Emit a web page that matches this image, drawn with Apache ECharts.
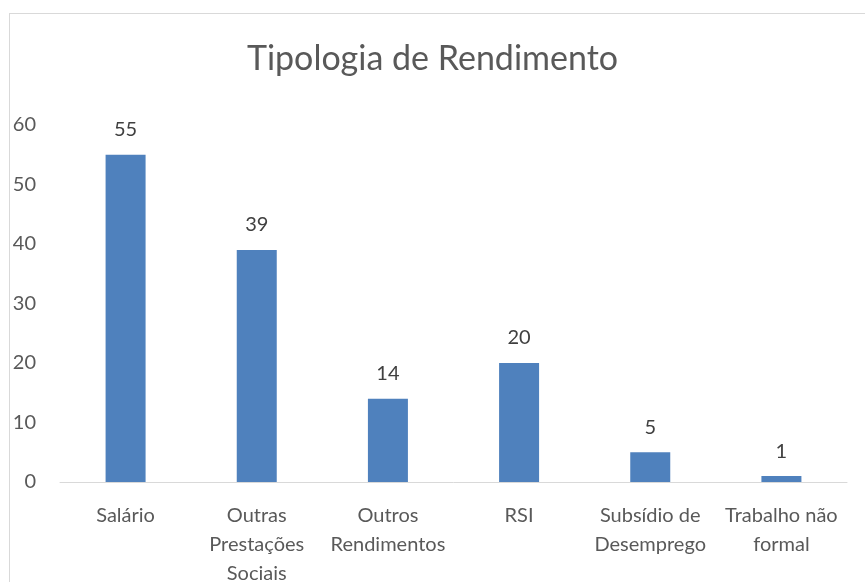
<!DOCTYPE html>
<html>
<head>
<meta charset="utf-8">
<script src="https://cdn.jsdelivr.net/npm/echarts@6/dist/echarts.min.js"></script>
<style>
  html, body { margin: 0; padding: 0; background: #fff; }
  #frame { position: absolute; left: 9px; top: 13px; width: 870px; height: 590px; border: 1px solid #d9d9d9; }
  #chart { position: absolute; left: 0; top: 0; width: 865px; height: 582px; }
</style>
</head>
<body>
<div id="frame"></div>
<div id="chart"></div>
<script>
// categories and values
const categories = ['Salário', 'Outras\nPrestações\nSociais', 'Outros\nRendimentos', 'RSI', 'Subsídio de\nDesemprego', 'Trabalho não\nformal'];
const values = [55, 39, 14, 20, 5, 1];
const yTicks = [0, 10, 20, 30, 40, 50, 60];

const font = 'Lato, "Open Sans", sans-serif';
const chart = echarts.init(document.getElementById('chart'));

chart.setOption({
  animation: false,
  title: {
    text: 'Tipologia de Rendimento',
    left: 'center',
    top: 37,
    textStyle: { fontFamily: font, fontSize: 34, fontWeight: 'normal', color: '#595959' }
  },
  grid: { left: 60, right: 18, top: 125, bottom: 100, outerBoundsMode: 'none' },
  xAxis: {
    type: 'category',
    data: categories,
    axisLine: { lineStyle: { color: '#d9d9d9', width: 1 } },
    axisTick: { show: false },
    axisLabel: { interval: 0, margin: 19, fontFamily: font, fontSize: 20, color: '#595959', lineHeight: 29 }
  },
  yAxis: {
    type: 'value',
    min: yTicks[0],
    max: yTicks[yTicks.length - 1],
    interval: 10,
    splitLine: { show: false },
    axisLine: { show: false },
    axisLabel: { margin: 24, fontFamily: font, fontSize: 20, color: '#595959' }
  },
  series: [{
    type: 'bar',
    data: values,
    barWidth: 40,
    itemStyle: { color: '#4f81bd' },
    label: { show: true, position: 'top', distance: 15, fontFamily: font, fontSize: 20, color: '#404040' }
  }]
});
</script>
</body>
</html>
